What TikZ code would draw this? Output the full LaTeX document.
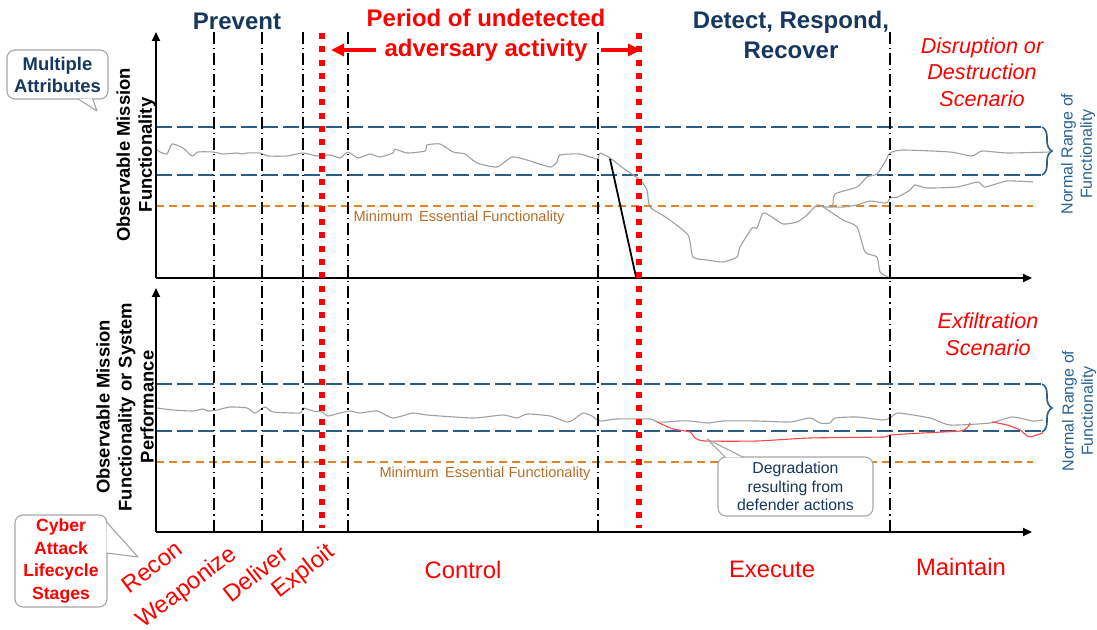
\documentclass[tikz,border=0pt]{standalone}
\usepackage{fontspec}
\setmainfont{Liberation Sans}
\usetikzlibrary{arrows.meta,calc,decorations.pathreplacing}

\definecolor{navy}{RGB}{23,55,94}
\definecolor{rangeblue}{RGB}{44,92,136}
\definecolor{rangetext}{RGB}{38,96,146}
\definecolor{mefline}{RGB}{221,132,40}
\definecolor{meftext}{RGB}{180,110,40}
\definecolor{tracegray}{RGB}{160,160,160}
\definecolor{calloutgray}{RGB}{166,166,166}
\definecolor{alarm}{RGB}{255,0,0}
\definecolor{degrade}{RGB}{255,70,70}

\begin{document}
\begin{tikzpicture}[x=0.5pt,y=-0.5pt,
  axisline/.style={line width=1pt,-{Triangle[length=4.5pt,width=4pt]}},
  stageline/.style={line width=0.7pt,dash pattern=on 6pt off 2pt on 0.6pt off 2pt},
  alarmline/.style={alarm,line width=3pt,dash pattern=on 3pt off 3.65pt},
  rangeline/.style={rangeblue,line width=1pt,dash pattern=on 8pt off 2.6pt},
  minline/.style={mefline,line width=0.8pt,dash pattern=on 4pt off 2.6pt},
  trace/.style={tracegray,line width=0.55pt,line join=round},
  degr/.style={degrade,line width=0.55pt,line join=round},
  rangebrace/.style={rangeblue,line width=0.8pt,decorate,decoration={brace,amplitude=5pt,aspect=0.5}},
  callout/.style={draw=calloutgray,fill=white,rounded corners=4pt,line width=0.55pt,align=center,inner sep=0pt},
  phase/.style={font=\fontsize{12}{15}\selectfont\bfseries,align=center},
  scenario/.style={alarm,font=\fontsize{10.8}{13.3}\selectfont\itshape,align=center},
  ylab/.style={font=\fontsize{9.2}{11}\selectfont\bfseries,align=center,rotate=90},
  rangelab/.style={rangetext,font=\fontsize{8}{9.6}\selectfont,align=center,rotate=90},
  minlab/.style={meftext,font=\fontsize{7.3}{9}\selectfont},
  stagelab/.style={alarm,font=\fontsize{11.9}{14}\selectfont},
  headarrow/.style={alarm,line width=1.6pt,-{Triangle[length=6.5pt,width=6pt]}}
]
\useasboundingbox (0,0) rectangle (1097,630);

% ---------- normal range bands and minimum essential levels ----------
\draw[rangeline] (156,127) -- (1042,127);
\draw[rangeline] (156,175) -- (1042,175);
\draw[minline]   (156,206) -- (1033,206);
\draw[rangeline] (156,384) -- (1042,384);
\draw[rangeline] (156,431) -- (1042,431);
\draw[minline]   (156,462) -- (1033,462);

\draw[rangebrace] (1042,127) -- (1042,175);
\draw[rangebrace] (1042,384) -- (1042,432);

\node[rangelab] (nr1) at (1078,154) {Normal Range of\\Functionality};
\node[rangelab] (nr2) at (1079,411) {Normal Range of\\Functionality};

\node[minlab] (mef1) at (459,218) {Minimum\, Essential Functionality};
\node[minlab] (mef2) at (485,474) {Minimum\, Essential Functionality};

% ---------- disruption / destruction traces ----------
\draw[trace] plot[smooth,tension=0.35] coordinates {
 (156,149) (160,152) (167,154) (172,144) (183,148) (192,156) (198,152) (213,152)
 (223,154) (237,153) (242,154) (247,153) (260,153) (268,156) (287,156) (303,153)
 (317,156) (330,155) (340,158) (348,152) (358,158) (370,154) (380,157) (393,153)
 (395,149) (407,153) (425,151) (427,145) (440,144) (453,152) (465,154) (477,163)
 (497,167) (512,157) (527,160) (550,167) (557,162) (560,155) (580,154) (597,159)
 (600,153) (610,158) (623,168) (640,180) (647,190) (650,207) (667,218) (688,235)
 (693,257) (707,260) (723,262) (737,257) (740,247) (752,228) (757,228) (763,213)
 (772,217) (783,224) (797,222) (807,215) (817,205) (823,207) (843,220) (857,227)
 (865,252) (877,257) (880,272) (888,277)};
\draw[trace] plot[smooth,tension=0.35] coordinates {
 (823,207) (843,207) (857,205) (870,201) (883,203) (888,202) (890,198) (898,197)
 (910,190) (915,185) (927,188) (957,187) (978,182) (985,187) (1007,181) (1033,182)};
\draw[trace] plot[smooth,tension=0.35] coordinates {
 (833,206) (835,194) (857,187) (867,177) (877,174) (885,162) (890,153) (903,150)
 (950,152) (972,156) (982,151) (1007,153) (1050,152)};

% ---------- exfiltration traces ----------
\draw[trace] plot[smooth,tension=0.35] coordinates {
 (157,408) (173,410) (193,411) (203,409) (208,411) (217,410) (230,407) (247,408)
 (255,413) (265,407) (273,412) (300,413) (303,408) (313,411) (322,412) (328,416)
 (340,413) (350,411) (360,413) (377,411) (393,418) (413,413) (427,415) (473,418)
 (503,415) (517,418) (527,414) (550,416) (567,422) (573,420) (583,413) (592,416)
 (600,421) (617,419) (650,419) (657,422) (667,422) (678,421) (690,421) (708,423)
 (723,421) (757,421) (790,422) (810,418) (820,423) (830,423) (835,418) (857,417)
 (883,420) (890,418) (898,413) (930,418) (950,425) (990,423) (1012,417) (1033,421)
 (1043,420)};
\draw[degr] plot[smooth,tension=0.35] coordinates {
 (657,422) (673,429) (690,432) (695,438) (705,441) (757,441) (810,438) (883,437)
 (890,435) (923,433) (960,431) (967,428) (970,423)};
\draw[degr] plot[smooth,tension=0.35] coordinates {
 (992,422) (1007,425) (1020,430) (1027,436) (1030,437) (1043,433)};

% ---------- lifecycle stage boundaries ----------
\foreach \sx in {214,262,303,348,598,890}
  \draw[stageline] (\sx,32) -- (\sx,532);

% ---------- axes ----------
\coordinate (o1) at (156,278);
\coordinate (y1) at (156,32);
\coordinate (x1) at (1032,278);
\coordinate (o2) at (156,532);
\coordinate (y2) at (156,288);
\coordinate (x2) at (1032,532);
\draw[axisline] (o1) -- (y1);
\draw[axisline] (o1) -- (x1);
\draw[axisline] (o2) -- (y2);
\draw[axisline] (o2) -- (x2);

% abrupt loss of function
\coordinate (drop0) at (610,159);
\coordinate (drop1) at (636,277);
\draw[line width=0.9pt] (drop0) -- (drop1);

% ---------- undetected-activity window ----------
\draw[alarmline] (322,33) -- (322,528);
\draw[alarmline] (639,33) -- (639,528);

% ---------- phase headings ----------
\node[phase,text=navy] (prevent) at (237,21) {Prevent};
\node[phase,text=alarm] (undet) at (486,35) {Period of undetected\\adversary activity};
\node[phase,text=navy] (drr) at (791,35) {Detect, Respond,\\Recover};
\coordinate (la0) at (376,50);
\coordinate (la1) at (331,50);
\coordinate (ra0) at (601,50);
\coordinate (ra1) at (641,50);
\draw[headarrow] (la0) -- (la1);
\draw[headarrow] (ra0) -- (ra1);

\node[scenario] (scen1) at (982,72) {Disruption or\\Destruction\\Scenario};
\node[scenario] (scen2) at (988,334) {Exfiltration\\Scenario};

% ---------- axis titles ----------
\node[ylab] (yl1) at (136,155) {Observable Mission\\Functionality};
\node[ylab] (yl2) at (125,407) {Observable Mission\\Functionality or System\\Performance};

% ---------- stage names ----------
\node[stagelab,rotate=37] (recon) at (152,567) {Recon};
\node[stagelab,rotate=37] (weap) at (187,588) {Weaponize};
\node[stagelab,rotate=38] (deliv) at (255,574) {Deliver};
\node[stagelab,rotate=38] (expl) at (304,572) {Exploit};
\node[stagelab] (ctrl) at (463,570) {Control};
\node[stagelab] (exec) at (772,569) {Execute};
\node[stagelab] (maint) at (961,567) {Maintain};

% ---------- callouts ----------
\node[callout,minimum width=50.5pt,minimum height=24.5pt,text=navy,
      font=\fontsize{9.2}{11}\selectfont\bfseries] (ma) at (57.5,74.5) {Multiple\\Attributes};
\coordinate (matip) at (97,111);
\filldraw[fill=white,draw=calloutgray,line width=0.55pt,line join=round]
  ($(ma.south)+(20,-1)$) -- (matip) -- ($(ma.south)+(35,-1)$);

\node[callout,minimum width=46pt,minimum height=46pt,text=alarm,
      font=\fontsize{8.8}{11.4}\selectfont\bfseries] (cy) at (61,561) {Cyber\\Attack\\Lifecycle\\Stages};
\coordinate (cytip) at (138,557);
\filldraw[fill=white,draw=calloutgray,line width=0.55pt,line join=round]
  ($(cy.east)+(-1,-39)$) -- (cytip) -- ($(cy.east)+(-1,-8)$);

\node[callout,minimum width=77.5pt,minimum height=29.5pt,text=navy,
      font=\fontsize{7.9}{9.3}\selectfont] (dg) at (795.5,486.5) {Degradation\\resulting from\\defender actions};
\coordinate (dgtip) at (707,439);
\filldraw[fill=white,draw=calloutgray,line width=0.55pt,line join=round]
  ($(dg.north)+(-70,1)$) -- (dgtip) -- ($(dg.north)+(-52,1)$);

\end{tikzpicture}
\end{document}
